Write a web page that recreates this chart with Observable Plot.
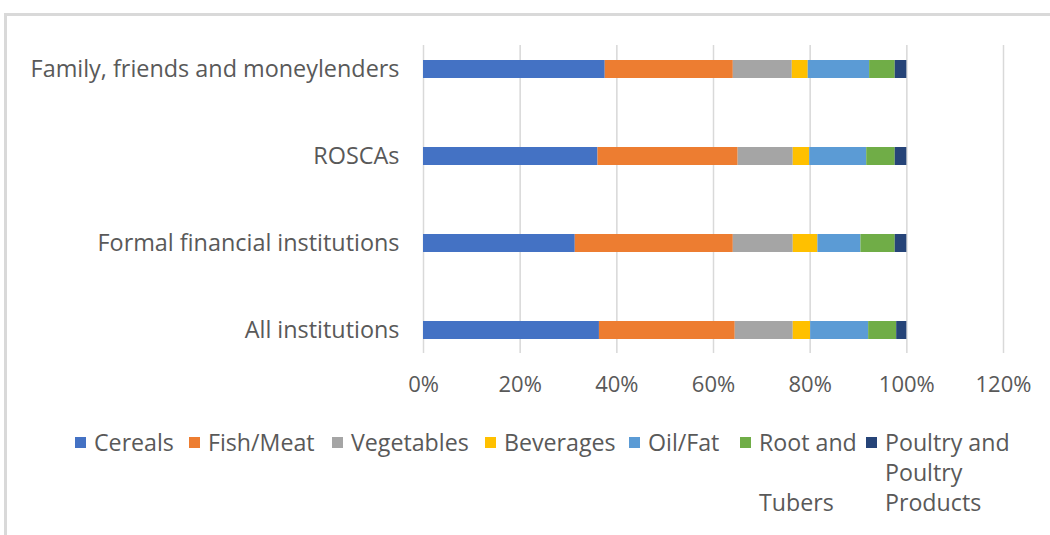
<!DOCTYPE html>
<html>
<head>
<meta charset="utf-8">
<script src="https://cdn.jsdelivr.net/npm/d3@7"></script>
<script src="https://cdn.jsdelivr.net/npm/@observablehq/plot@0.6"></script>
<style>
  html, body { margin: 0; padding: 0; background: #fff; width: 1050px; height: 535px; overflow: hidden; }
  #frame { position: absolute; left: 4px; top: 13px; width: 1100px; height: 600px; border-top: 3px solid #d9d9d9; border-left: 3px solid #d9d9d9; }
  #chart { position: absolute; left: 0; top: 0; }
  #legend { position: absolute; left: 0; top: 427px; width: 1050px; font-family: "Open Sans", Lato, sans-serif; font-size: 23.2px; color: #595959; }
  .item { position: absolute; top: 0; line-height: 30px; white-space: nowrap; }
  .sw { position: absolute; width: 11px; height: 11px; top: 10px; }
  .lbl { position: absolute; top: 0; }
</style>
</head>
<body>
<div id="frame"></div>
<div id="chart"></div>
<div id="legend"></div>
<script>
const categories = ["Family, friends and moneylenders", "ROSCAs", "Formal financial institutions", "All institutions"];
const seriesNames = ["Cereals", "Fish/Meat", "Vegetables", "Beverages", "Oil/Fat", "Root and Tubers", "Poultry and Poultry Products"];
const colors = ["#4472C4", "#ED7D31", "#A5A5A5", "#FFC000", "#5B9BD5", "#70AD47", "#264478"];
const cereals    = [37.6, 36.1, 31.4, 36.4];
const fishMeat   = [26.5, 29.0, 32.7, 28.1];
const vegetables = [12.2, 11.4, 12.4, 12.0];
const beverages  = [3.3, 3.4, 5.1, 3.6];
const oilFat     = [12.7, 11.8, 8.9, 12.0];
const rootTubers = [5.3, 5.9, 7.1, 5.8];
const poultry    = [2.4, 2.4, 2.4, 2.1];
const xTicks = [0, 0.2, 0.4, 0.6, 0.8, 1.0, 1.2];

const seriesValues = [cereals, fishMeat, vegetables, beverages, oilFat, rootTubers, poultry];
const rows = [];
seriesNames.forEach((s, si) => {
  categories.forEach((c, ci) => {
    rows.push({category: c, series: s, value: seriesValues[si][ci] / 100});
  });
});

const chart = Plot.plot({
  width: 1050,
  height: 400,
  marginLeft: 423,
  marginRight: 47,
  marginTop: 45,
  marginBottom: 47,
  style: {fontFamily: "'Open Sans', Lato, sans-serif", fontSize: "22px", color: "#595959", background: "transparent"},
  x: {domain: [0, 1.2], ticks: xTicks, tickFormat: d3.format(".0%"), grid: true, tickSize: 0, tickPadding: 23, label: null},
  y: {domain: categories, paddingInner: 0.795, paddingOuter: 0.15, tickSize: 0, tickPadding: 24, label: null},
  color: {domain: seriesNames, range: colors},
  marks: [
    Plot.gridX(xTicks, {stroke: "#d9d9d9", strokeOpacity: 1, strokeWidth: 1.5}),
    Plot.barX(rows, Plot.stackX({y: "category", x: "value", fill: "series", order: seriesNames})),
    Plot.axisX({ticks: xTicks, tickFormat: d3.format(".0%"), tickSize: 0, tickPadding: 23, fontSize: 22, label: null}),
    Plot.axisY({tickSize: 0, tickPadding: 24, fontSize: 23.4, label: null})
  ]
});
document.getElementById("chart").appendChild(chart);

// Legend (Excel-style wrapping)
const legendItems = [
  {x: 75, lines: ["Cereals"]},
  {x: 189, lines: ["Fish/Meat"]},
  {x: 332, lines: ["Vegetables"]},
  {x: 485, lines: ["Beverages"]},
  {x: 629, lines: ["Oil/Fat"]},
  {x: 740, lines: ["Root and", "", "Tubers"]},
  {x: 866, lines: ["Poultry and", "Poultry", "Products"]}
];
const legend = document.getElementById("legend");
legendItems.forEach((it, i) => {
  const d = document.createElement("div");
  d.className = "item";
  d.style.left = it.x + "px";
  const sw = document.createElement("div");
  sw.className = "sw";
  sw.style.left = "0px";
  sw.style.background = colors[i];
  const l = document.createElement("div");
  l.className = "lbl";
  l.style.left = "19px";
  l.innerHTML = it.lines.map(t => t === "" ? "&nbsp;" : t).join("<br>");
  d.appendChild(sw);
  d.appendChild(l);
  legend.appendChild(d);
});
</script>
</body>
</html>
